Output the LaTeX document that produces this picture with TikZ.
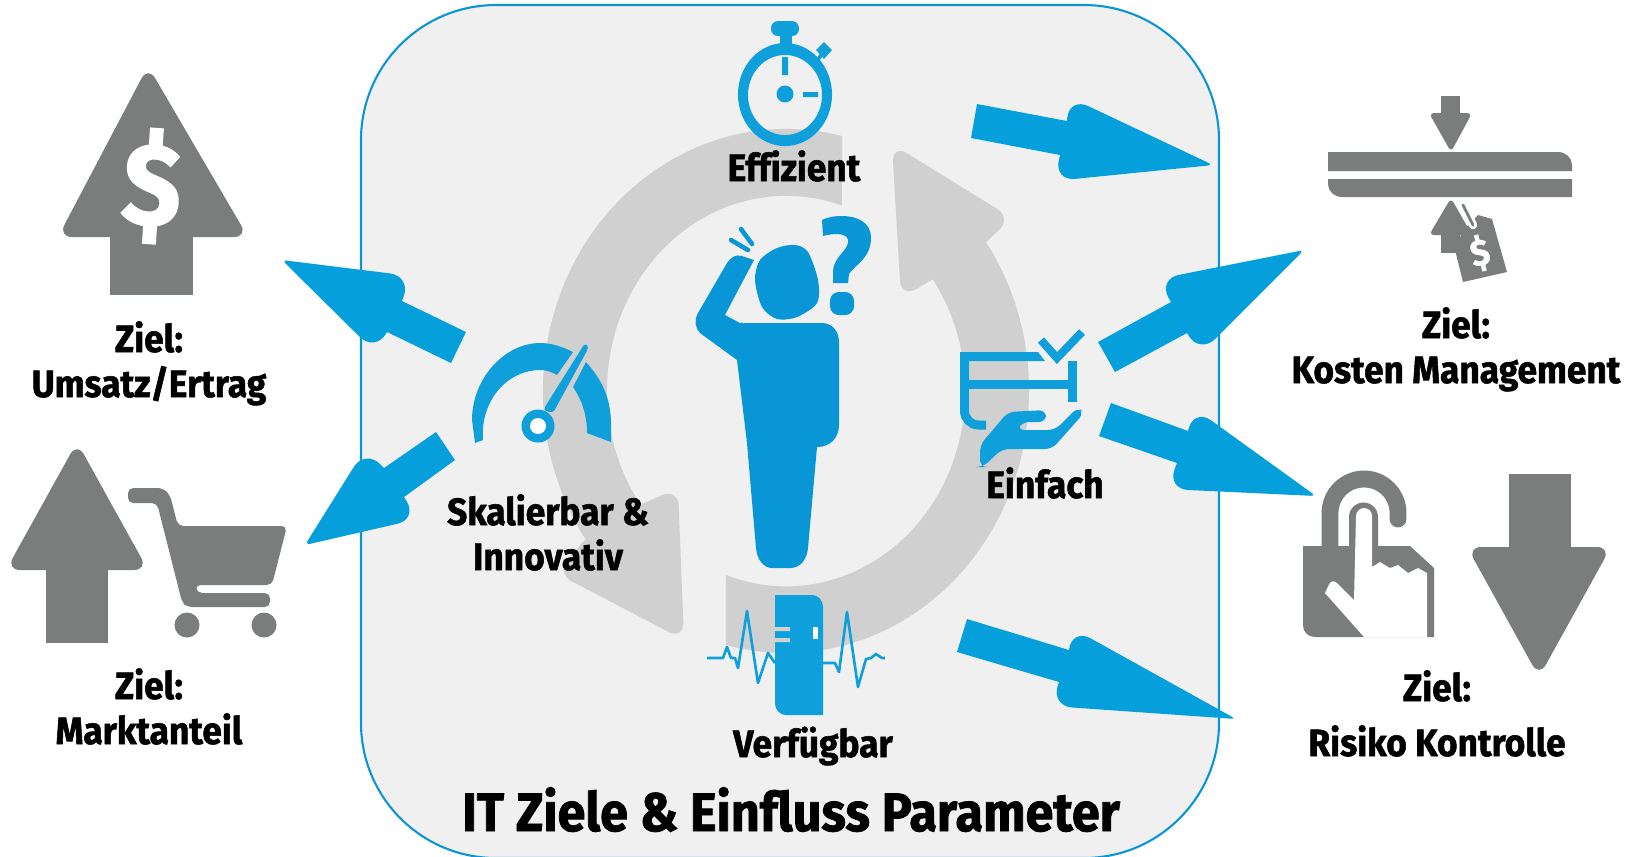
\documentclass[tikz,border=0pt]{standalone}
\usepackage{fontspec}
\setmainfont{Fira Sans}[Ligatures=NoCommon,BoldFont=* Bold,BoldFeatures={FakeBold=1.4,FakeStretch=0.93}]
\usetikzlibrary{positioning}

\definecolor{panelgrau}{HTML}{F0F0F0}
\definecolor{panelblau}{HTML}{0A96D6}
\definecolor{ringgrau}{HTML}{D0D0D0}
\definecolor{pfeilblau}{HTML}{05A0DC}
\definecolor{personblau}{HTML}{0896D6}
\definecolor{iconblau}{HTML}{0FA0DC}
\definecolor{icongrau}{HTML}{7B7D7D}

\tikzset{
  label/.style={inner sep=0pt, align=center, anchor=base, font=\fontsize{10.8}{12.8}\selectfont\bfseries},
  titel/.style={label, font=\fontsize{15.4}{18}\selectfont\bfseries},
  grauicon/.style={fill=icongrau, rounded corners=4pt},
  klein/.style={fill=icongrau, rounded corners=1.5pt},
  blauicon/.style={fill=iconblau},
  blaulinie/.style={draw=iconblau, line width=2.56pt},
  puls/.style={draw=iconblau, line width=0.75pt, line join=round}
}

% Blockpfeil: Schaft, Kerbe, Widerhaken, Spitze, Widerhaken, Kerbe, Schaft
\newcommand{\blockarrow}[7]{%
  \fill[pfeilblau] #1 -- #2 [rounded corners=6pt] -- #3 [rounded corners=1.5pt] -- #4 [rounded corners=6pt] -- #5 [sharp corners] -- #6 -- #7 -- cycle;}

\begin{document}
\begin{tikzpicture}[x=0.01cm, y=0.01cm, yscale=-1]
    \useasboundingbox (0,0) rectangle (1633,856);

    % Panel
    \draw[fill=panelgrau, draw=panelblau, line width=0.6pt, rounded corners=1.35cm] (361,5) rectangle (1219,858);

    % Kreislauf
    \fill[ringgrau] (842,136) arc[start angle=-76.7, end angle=-214.4, x radius=2.43cm, y radius=2.62cm]
        [rounded corners=5pt] -- (556,573) -- (684,640) -- (678,488) [sharp corners] -- (640.6,504.8)
        arc[start angle=144.3, end angle=288.2, x radius=1.79cm, y radius=1.95cm] -- cycle;
    \fill[ringgrau] (726,575) arc[start angle=109.6, end angle=-35, x radius=1.79cm, y radius=1.95cm]
        [rounded corners=5pt] -- (901,298) -- (892,144) -- (1012,218) [sharp corners] -- (986,242)
        arc[start angle=-34.6, end angle=104.3, x radius=2.43cm, y radius=2.62cm] -- cycle;

    % Person
    \fill[personblau] (740,323) -- (822,323) .. controls (832,323) and (839,331) .. (839,342) -- (839,425)
        .. controls (839,438) and (830,447) .. (817,447) -- (808,548) .. controls (807,560) and (800,568) .. (790,568)
        -- (772,568) .. controls (764,568) and (757,560) .. (756,548) -- (747,443) -- (737,360) -- (700,333)
        .. controls (695,328) and (694,320) .. (698,313) -- (727,263) .. controls (731,257) and (736,254) .. (742,256)
        -- (754,260) -- (725,315) -- cycle;
    \fill[personblau] plot[smooth cycle] coordinates {(795,245) (808,252) (818,280) (817,303) (797,317) (777,319) (762,307) (755,280) (760,260) (777,248)};
    \draw[personblau, line width=1.3pt, line cap=round] (731,240) -- (748,250) (741,229) -- (752,244);
    \fill[personblau] (822,220) -- (823,236) .. controls (838,232) and (850,234) .. (848,243)
        .. controls (846,252) and (833,258) .. (833,272) -- (833,283) -- (848,283) -- (849,274)
        .. controls (855,265) and (871,258) .. (871,238) .. controls (871,222) and (857,216) .. (842,216)
        .. controls (832,216) and (826,218) .. (822,220) -- cycle;
    \fill[personblau, rounded corners=2.5pt] (830,292) rectangle (854,315);

    % Stoppuhr
    \fill[blauicon, even odd rule] (785,94.5) ellipse[x radius=0.47cm, y radius=0.515cm] (785,95) ellipse[x radius=0.37cm, y radius=0.40cm];
    \fill[blauicon] (780,30) rectangle (792,45);
    \fill[blauicon, rounded corners=2pt] (771,21) -- (799,21) -- (799,36) -- (771,36) -- cycle;
    \fill[blauicon] (816,50) -- (824,42) -- (832,50) -- (824,59) -- cycle;
    \draw[blaulinie, line width=1pt] (824,50) -- (818,60);
    \fill[blauicon] (782,57) rectangle (788,75) (803,92) rectangle (818,97) (785,94) circle[radius=0.085cm];

    % Tacho
    \fill[blauicon] (475,443) -- (472,420) .. controls (472,378) and (505,343) .. (540,343)
        .. controls (552,343) and (563,347) .. (573,352) -- (557,375) .. controls (550,371) and (545,370) .. (540,370)
        .. controls (508,370) and (480,400) .. (483,440) -- cycle;
    \fill[blauicon] (586,362) .. controls (600,378) and (611,395) .. (611,425) -- (611,442) -- (587,433)
        .. controls (587,415) and (582,400) .. (573,387) -- cycle;
    \fill[blauicon, rounded corners=1pt] (543,410) -- (585,343) -- (589,347) -- (553,413) -- cycle;
    \fill[blauicon] (538,426) circle[radius=0.165cm];
    \fill[white] (538,426) circle[radius=0.08cm];

    % Checkliste mit Hand
    \fill[blauicon] (1038,352) -- (1045,361) -- (969,361) -- (969,352) -- cycle;
    \draw[blaulinie] (964.5,352) [rounded corners=4pt] -- (964.5,425) [sharp corners] -- (986,425);
    \draw[blaulinie] (969,384.5) -- (1072.5,384.5) (1072.5,361) -- (1072.5,402);
    \draw[blaulinie, line width=2.3pt] (1041,340) -- (1057,358) -- (1082,332);
    \fill[blauicon, rounded corners=2pt] (980,445) -- (1008,412) -- (1046,410) -- (1046,422) -- (1022,422) -- (1017,430)
        -- (1055,430) -- (1078,407) -- (1084,413) -- (1052,449) -- (1002,449) -- (983,467) -- (980,467) -- cycle;

    % Server mit Puls
    \draw[puls] (707,658) -- (723,658) -- (727,647) -- (731,658) -- (735,658) -- (738,668) -- (747,611) -- (758,683) -- (768,653) -- (775,663);
    \draw[puls] (823,663) -- (835,663) -- (839,672) -- (847,612) -- (858,687) -- (866,659) -- (871,658) -- (876,654) -- (882,658) -- (885,658);
    \fill[blauicon] (775,595) -- (812,595) .. controls (818,595) and (823,600) .. (823,607) -- (823,715)
        -- (786,715) .. controls (780,715) and (775,710) .. (775,703) -- cycle;
    \fill[ringgrau] (775,627) rectangle (790,631) (775,638) rectangle (790,642);
    \fill[white] (813,627) rectangle (818,639);

    % Pfeil mit Dollar
    \fill[icongrau] (110,230) rectangle (193,295);
    \fill[grauicon] (58,237) -- (148,66) -- (248,237) -- cycle;
    \node[inner sep=0pt, text=white, rotate=-4, font=\fontsize{33}{33}\selectfont\bfseries] (dollar) at (152,186) {\$};

    % Pfeil mit Einkaufswagen
    \fill[icongrau] (46,560) rectangle (108,643);
    \fill[grauicon] (6,570) -- (77,442) -- (148,570) -- cycle;
    \fill[icongrau, rounded corners=1.5pt] (128,488) -- (163,488) -- (170,495) -- (178,526) -- (287,526) -- (272,585) -- (195,585) -- (197,593)
        -- (270,593) -- (270,607) -- (187,607) -- (182,602) -- (157,503) -- (128,503) -- cycle;
    \fill[icongrau] (187,625) circle[radius=0.125cm] (264,625) circle[radius=0.125cm];

    % Kosten
    \fill[icongrau] (1441,96) rectangle (1460,120);
    \fill[klein] (1429,113) -- (1472,113) -- (1451,152) -- cycle;
    \fill[icongrau] (1328,152) -- (1558,152) .. controls (1566,152) and (1572,158) .. (1572,165) -- (1572,171) -- (1328,171) -- cycle;
    \fill[icongrau] (1328,179) -- (1572,179) -- (1572,197) -- (1342,197) .. controls (1334,197) and (1328,191) .. (1328,184) -- cycle;
    \fill[icongrau] (1441,230) rectangle (1460,253);
    \fill[klein] (1429,235) -- (1451,198) -- (1472,235) -- cycle;
    \fill[icongrau] (1478,215) -- (1492,219) -- (1507,272) -- (1463,282) -- (1455,250) -- (1462,232) -- cycle;
    \draw[white, line width=2.4pt, line cap=round] (1463,205) -- (1473,225);
    \draw[icongrau, line width=0.8pt, line cap=round] (1463,205) -- (1473,225);
    \node[inner sep=0pt, text=white, rotate=13, font=\fontsize{10.5}{10.5}\selectfont\bfseries] (preis) at (1480,253) {\$};

    % Schloss mit Hand
    \draw[icongrau, line width=4.8pt, line cap=round] (1330,550) -- (1330,513) arc[start angle=180, end angle=360, radius=0.34cm] -- (1398,519);
    \fill[icongrau] (1303,546) -- (1410,546) -- (1434,568) -- (1434,637) -- (1315,637) .. controls (1308,637) and (1303,632) .. (1303,625) -- cycle;
    \fill[icongrau] (1349,550) -- (1349,517) arc[start angle=180, end angle=360, radius=0.145cm] -- (1378,550) -- cycle;
    \fill[white] (1356,516) arc[start angle=180, end angle=360, radius=0.08cm] -- (1372,567) -- (1380,562) -- (1390,568) -- (1398,565)
        -- (1408,573) -- (1418,568) -- (1427,573) -- (1427,637) -- (1364,637) -- (1325,593) [rounded corners=2pt] -- (1332,578) [sharp corners] -- (1354,600) -- cycle;

    % Pfeil nach unten
    \fill[icongrau] (1509,474) rectangle (1571,555);
    \fill[grauicon] (1467,547) -- (1611,547) -- (1539,677) -- cycle;

    % Blaue Pfeile
    \blockarrow{(977,104)}{(1067,121)}{(1069,97)}{(1213,165)}{(1054,181)}{(1060,155)}{(971,138)}
    \blockarrow{(1098,342)}{(1171,302)}{(1158,279)}{(1304,250)}{(1200,354)}{(1187,333)}{(1115,372)}
    \blockarrow{(1111,403)}{(1188,431)}{(1194,408)}{(1316,496)}{(1167,489)}{(1177,463)}{(1099,436)}
    \blockarrow{(967,619)}{(1069,650)}{(1072,628)}{(1236,719)}{(1051,706)}{(1059,682)}{(957,652)}
    \blockarrow{(466,332)}{(402,301)}{(411,276)}{(282,260)}{(375,352)}{(387,332)}{(451,363)}
    \blockarrow{(436,432)}{(384,468)}{(365,449)}{(305,545)}{(418,519)}{(404,497)}{(455,460)}

    % Texte
    \node[label] (effizient) at (794,181) {Effizient};
    \node[label] (skalierbar) at (548,570) {Skalierbar \&\\Innovativ};
    \node[label] (einfach) at (1045,498) {Einfach};
    \node[label] (verfuegbar) at (813,757) {Verfügbar};
    \node[titel] (titel) at (791,831) {IT Ziele \& Einfluss Parameter};
    \node[label] (umsatz) at (149,397) {Ziel:\\Umsatz/Ertrag};
    \node[label] (markt) at (149,744) {Ziel:\\Marktanteil};
    \node[label] (kosten) at (1456,383) {Ziel:\\Kosten Management};
    \node[label] (risiko) at (1437,756) {Ziel:\\[0.1cm]Risiko Kontrolle};
\end{tikzpicture}
\end{document}
